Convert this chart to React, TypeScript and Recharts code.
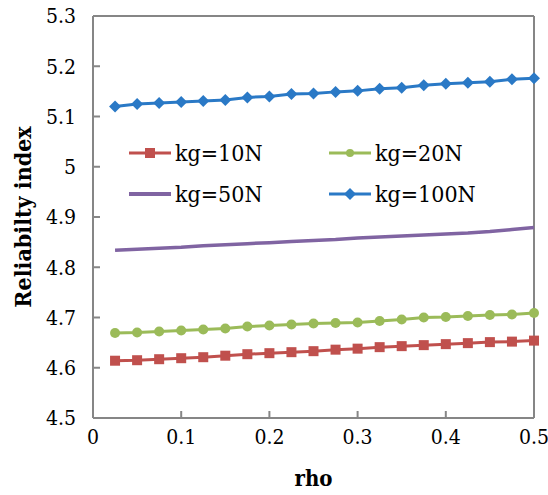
import { LineChart, Line, XAxis, YAxis, ReferenceLine, Legend, Label } from 'recharts';

const rho = [0.025, 0.05, 0.075, 0.1, 0.125, 0.15, 0.175, 0.2, 0.225, 0.25, 0.275, 0.3, 0.325, 0.35, 0.375, 0.4, 0.425, 0.45, 0.475, 0.5];
const kg10 = [4.614, 4.615, 4.617, 4.619, 4.621, 4.624, 4.627, 4.629, 4.631, 4.633, 4.636, 4.638, 4.641, 4.643, 4.645, 4.647, 4.649, 4.651, 4.652, 4.654];
const kg20 = [4.669, 4.670, 4.672, 4.674, 4.676, 4.678, 4.682, 4.684, 4.686, 4.688, 4.689, 4.690, 4.693, 4.696, 4.700, 4.701, 4.703, 4.705, 4.706, 4.709];
const kg50 = [4.834, 4.836, 4.838, 4.840, 4.843, 4.845, 4.847, 4.849, 4.851, 4.853, 4.855, 4.858, 4.860, 4.862, 4.864, 4.866, 4.868, 4.871, 4.875, 4.879];
const kg100 = [5.120, 5.125, 5.127, 5.129, 5.131, 5.133, 5.138, 5.140, 5.145, 5.146, 5.149, 5.151, 5.155, 5.157, 5.162, 5.165, 5.167, 5.169, 5.174, 5.176];

const xTicks = [0, 0.1, 0.2, 0.3, 0.4, 0.5];
const yTicks = [4.5, 4.6, 4.7, 4.8, 4.9, 5, 5.1, 5.2, 5.3];
const legendOrder = ['kg10', 'kg20', 'kg50', 'kg100'];

const data = rho.map((r, i) => ({ rho: r, kg10: kg10[i], kg20: kg20[i], kg50: kg50[i], kg100: kg100[i] }));

const FONT = '"DejaVu Serif Condensed", "Liberation Serif", "DejaVu Serif", serif';
const AXIS = '#868686';
const RED = '#C0504D';
const GREEN = '#9BBB59';
const PURPLE = '#8064A2';
const BLUE = '#2A79C6';

const square = (p: any) => <rect key={p.index} x={p.cx - 5} y={p.cy - 5} width={10} height={10} fill={RED} />;
const circle = (p: any) => <circle key={p.index} cx={p.cx} cy={p.cy} r={5} fill={GREEN} />;
const diamond = (p: any) => (
  <path key={p.index} d={`M${p.cx},${p.cy - 6}L${p.cx + 6},${p.cy}L${p.cx},${p.cy + 6}L${p.cx - 6},${p.cy}Z`} fill={BLUE} />
);

// legend icon per series
function Icon({ k }: { k: string }) {
  const color = k === 'kg10' ? RED : k === 'kg20' ? GREEN : k === 'kg50' ? PURPLE : BLUE;
  return (
    <svg width={44} height={14} style={{ marginRight: 3 }}>
      <line x1={1} y1={7} x2={43} y2={7} stroke={color} strokeWidth={k === 'kg50' ? 4 : 3} />
      {k === 'kg10' && <rect x={17} y={2} width={10} height={10} fill={RED} />}
      {k === 'kg20' && <circle cx={22} cy={7} r={4} fill={GREEN} />}
      {k === 'kg100' && <path d="M22,1L28,7L22,13L16,7Z" fill={BLUE} />}
    </svg>
  );
}

function renderLegend(props: any) {
  const items = [...(props.payload || [])].sort(
    (a: any, b: any) => legendOrder.indexOf(a.dataKey) - legendOrder.indexOf(b.dataKey)
  );
  return (
    <div style={{ display: 'grid', gridTemplateColumns: '200px 200px', rowGap: 13, fontFamily: FONT, fontSize: 23, color: '#000' }}>
      {items.map((it: any) => (
        <div key={it.dataKey} style={{ display: 'flex', alignItems: 'center', height: 28 }}>
          <Icon k={it.dataKey} />
          <span>{it.value}</span>
        </div>
      ))}
    </div>
  );
}

const tickStyle = { fontFamily: FONT, fontSize: 21, fill: '#000' };

export default function App() {
  return (
    <div style={{ position: 'absolute', left: 0, top: 0, background: '#fff' }}>
      <LineChart width={548} height={495} data={data} margin={{ top: 16, right: 14, left: 0, bottom: 0 }}>
        <XAxis
          dataKey="rho"
          type="number"
          domain={[0, 0.5]}
          ticks={xTicks}
          tickFormatter={(v: number) => (v === 0 ? '0' : v.toFixed(1))}
          height={77}
          stroke={AXIS}
          strokeWidth={2}
          tickSize={-7}
          tickMargin={18}
          tick={tickStyle}
        >
          <Label
            content={(p: any) => (
              <text x={p.viewBox.x + p.viewBox.width / 2} y={486} textAnchor="middle" fontFamily={FONT} fontSize={22} fontWeight="bold">
                rho
              </text>
            )}
          />
        </XAxis>
        <YAxis
          type="number"
          domain={[4.5, 5.3]}
          ticks={yTicks}
          tickFormatter={(v: number) => (v === 5 ? '5' : v.toFixed(1))}
          width={93}
          stroke={AXIS}
          strokeWidth={2}
          tickSize={-7}
          tickMargin={24}
          tick={tickStyle}
        >
          <Label
            content={(p: any) => {
              const cy = p.viewBox.y + p.viewBox.height / 2;
              return (
                <text x={22} y={cy} transform={`rotate(-90 22 ${cy})`} textAnchor="middle" dominantBaseline="central" fontFamily={FONT} fontSize={23} fontWeight="bold">
                  Reliabilty index
                </text>
              );
            }}
          />
        </YAxis>
        <ReferenceLine y={5.3} stroke={AXIS} strokeWidth={2} />
        <ReferenceLine x={0.5} stroke={AXIS} strokeWidth={2} />
        <Legend
          layout="horizontal"
          verticalAlign="middle"
          align="center"
          content={renderLegend}
          wrapperStyle={{ position: 'absolute', left: 128, top: 139, width: 420 }}
        />
        <Line dataKey="kg10" name="kg=10N" stroke={RED} strokeWidth={3} dot={square} activeDot={false} isAnimationActive={false} />
        <Line dataKey="kg20" name="kg=20N" stroke={GREEN} strokeWidth={3} dot={circle} activeDot={false} isAnimationActive={false} />
        <Line dataKey="kg50" name="kg=50N" stroke={PURPLE} strokeWidth={3.5} dot={false} activeDot={false} isAnimationActive={false} />
        <Line dataKey="kg100" name="kg=100N" stroke={BLUE} strokeWidth={3} dot={diamond} activeDot={false} isAnimationActive={false} />
      </LineChart>
    </div>
  );
}
